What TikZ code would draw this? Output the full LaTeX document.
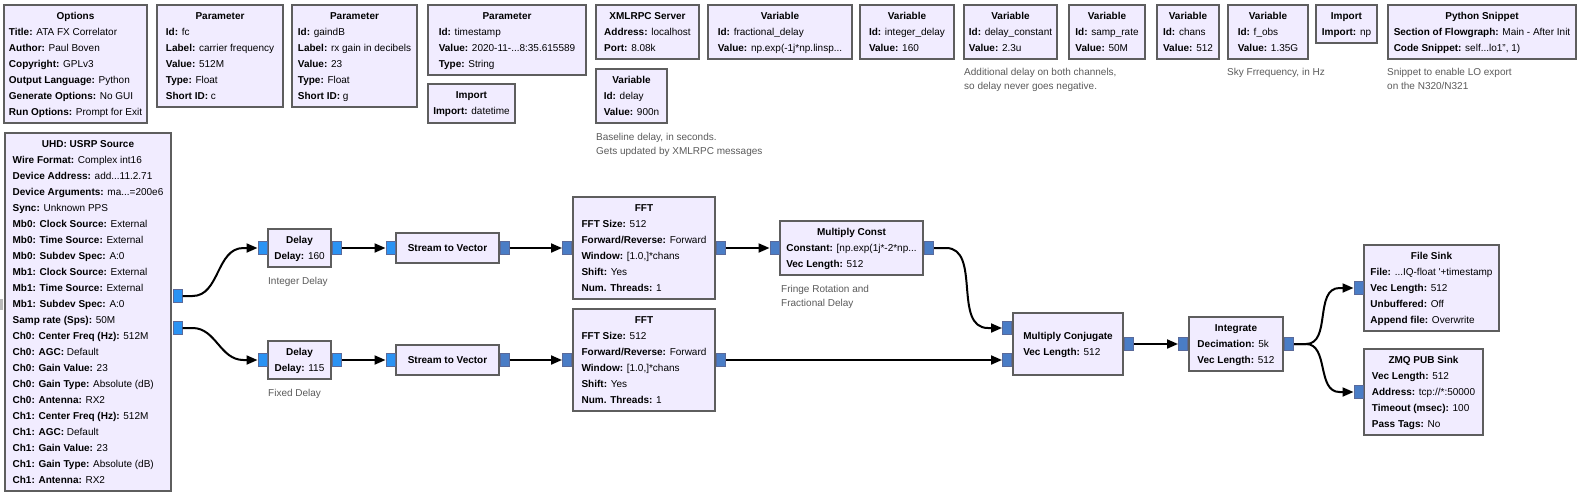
\documentclass[tikz,border=0pt]{standalone}
\usepackage{fontspec}
\setmainfont{Liberation Sans}
\usetikzlibrary{arrows.meta}
\definecolor{blkfill}{HTML}{F1ECFF}
\definecolor{blkline}{HTML}{5E5E5E}
\definecolor{cplx}{HTML}{2A93F3}
\definecolor{cvec}{HTML}{4A7DC6}
\definecolor{portline}{HTML}{5A6A9A}
\definecolor{cmtgray}{HTML}{5A5A5A}
\newcommand{\blk}[2]{\begin{tabular}{@{}l@{}}\multicolumn{1}{@{}c@{}}{\textbf{#1}}\\#2\end{tabular}}
\newcommand{\pline}[2]{\textbf{#1:} #2}

\begin{document}
\begin{tikzpicture}[x=1pt,y=-1pt,
	blk/.style={draw=blkline,line width=2pt,fill=blkfill,inner sep=0pt,font=\fontsize{10}{16}\selectfont},
	cport/.style={draw=portline,line width=1pt,fill=cplx,minimum width=9pt,minimum height=13pt,inner sep=0pt},
	vport/.style={cport,fill=cvec},
	wire/.style={line width=2pt,-{Triangle[length=11pt,width=9pt]}},
	cmt/.style={anchor=north west,inner sep=0pt,text=cmtgray,align=left,font=\fontsize{10}{14}\selectfont}]
	\useasboundingbox (0,0) rectangle (1585,498);
	\fill[gray!55] (0,299) rectangle (3,310);

	\node[blk,minimum width=143pt,minimum height=118pt] (opts) at (75.5,64) {\blk{Options}{\pline{Title}{ATA FX Correlator}\\\pline{Author}{Paul Boven}\\\pline{Copyright}{GPLv3}\\\pline{Output Language}{Python}\\\pline{Generate Options}{No GUI}\\\pline{Run Options}{Prompt for Exit}}};
	\node[blk,minimum width=126pt,minimum height=102pt] (parfc) at (220,56) {\blk{Parameter}{\pline{Id}{fc}\\\pline{Label}{carrier frequency}\\\pline{Value}{512M}\\\pline{Type}{Float}\\\pline{Short ID}{c}}};
	\node[blk,minimum width=125pt,minimum height=102pt] (pargain) at (354.5,56) {\blk{Parameter}{\pline{Id}{gaindB}\\\pline{Label}{rx gain in decibels}\\\pline{Value}{23}\\\pline{Type}{Float}\\\pline{Short ID}{g}}};
	\node[blk,minimum width=158pt,minimum height=70pt] (parts) at (507,40) {\blk{Parameter}{\pline{Id}{timestamp}\\\pline{Value}{2020-11-...8:35.615589}\\\pline{Type}{String}}};
	\node[blk,minimum width=87pt,minimum height=39pt] (impdt) at (471.5,103.5) {\blk{Import}{\pline{Import}{datetime}}};
	\node[blk,minimum width=103pt,minimum height=54pt] (xmlrpc) at (647.5,32) {\blk{XMLRPC Server}{\pline{Address}{localhost}\\\pline{Port}{8.08k}}};
	\node[blk,minimum width=71pt,minimum height=54pt] (vardelay) at (631.5,96) {\blk{Variable}{\pline{Id}{delay}\\\pline{Value}{900n}}};
	\node[blk,minimum width=144pt,minimum height=54pt] (varfrac) at (780,32) {\blk{Variable}{\pline{Id}{fractional\_delay}\\\pline{Value}{np.exp(-1j*np.linsp...}}};
	\node[blk,minimum width=94pt,minimum height=54pt] (varint) at (907,32) {\blk{Variable}{\pline{Id}{integer\_delay}\\\pline{Value}{160}}};
	\node[blk,minimum width=93pt,minimum height=54pt] (varconst) at (1010.5,32) {\blk{Variable}{\pline{Id}{delay\_constant}\\\pline{Value}{2.3u}}};
	\node[blk,minimum width=76pt,minimum height=54pt] (varsr) at (1107,32) {\blk{Variable}{\pline{Id}{samp\_rate}\\\pline{Value}{50M}}};
	\node[blk,minimum width=62pt,minimum height=54pt] (varchans) at (1188,32) {\blk{Variable}{\pline{Id}{chans}\\\pline{Value}{512}}};
	\node[blk,minimum width=80pt,minimum height=54pt] (varfobs) at (1268,32) {\blk{Variable}{\pline{Id}{f\_obs}\\\pline{Value}{1.35G}}};
	\node[blk,minimum width=61pt,minimum height=38pt] (impnp) at (1346.5,24) {\blk{Import}{\pline{Import}{np}}};
	\node[blk,minimum width=188pt,minimum height=54pt] (snippet) at (1482,32) {\blk{Python Snippet}{\pline{Section of Flowgraph}{Main - After Init}\\\pline{Code Snippet}{self...lo1", 1)}}};

	\node[cmt] (cmtdelay) at (596,133) {Baseline delay, in seconds.\\Gets updated by XMLRPC messages};
	\node[cmt] (cmtconst) at (964,68) {Additional delay on both channels,\\so delay never goes negative.};
	\node[cmt] (cmtfobs) at (1227,68) {Sky Frrequency, in Hz};
	\node[cmt] (cmtsnip) at (1387,68) {Snippet to enable LO export\\on the N320/N321};

	\node[blk,minimum width=166pt,minimum height=358pt] (usrp) at (88,312) {\blk{UHD: USRP Source}{\pline{Wire Format}{Complex int16}\\\pline{Device Address}{add...11.2.71}\\\pline{Device Arguments}{ma...=200e6}\\\pline{Sync}{Unknown PPS}\\\pline{Mb0: Clock Source}{External}\\\pline{Mb0: Time Source}{External}\\\pline{Mb0: Subdev Spec}{A:0}\\\pline{Mb1: Clock Source}{External}\\\pline{Mb1: Time Source}{External}\\\pline{Mb1: Subdev Spec}{A:0}\\\pline{Samp rate (Sps)}{50M}\\\pline{Ch0: Center Freq (Hz)}{512M}\\\pline{Ch0: AGC}{Default}\\\pline{Ch0: Gain Value}{23}\\\pline{Ch0: Gain Type}{Absolute (dB)}\\\pline{Ch0: Antenna}{RX2}\\\pline{Ch1: Center Freq (Hz)}{512M}\\\pline{Ch1: AGC}{Default}\\\pline{Ch1: Gain Value}{23}\\\pline{Ch1: Gain Type}{Absolute (dB)}\\\pline{Ch1: Antenna}{RX2}}};
	\node[blk,minimum width=63pt,minimum height=38pt] (delay1) at (299.5,248) {\blk{Delay}{\pline{Delay}{160}}};
	\node[blk,minimum width=63pt,minimum height=38pt] (delay2) at (299.5,360) {\blk{Delay}{\pline{Delay}{115}}};
	\node[blk,minimum width=103pt,minimum height=30pt] (s2v1) at (447.5,248) {\textbf{Stream to Vector}};
	\node[blk,minimum width=103pt,minimum height=30pt] (s2v2) at (447.5,360) {\textbf{Stream to Vector}};
	\node[blk,minimum width=142pt,minimum height=102pt] (fft1) at (644,248) {\blk{FFT}{\pline{FFT Size}{512}\\\pline{Forward/Reverse}{Forward}\\\pline{Window}{[1.0,]*chans}\\\pline{Shift}{Yes}\\\pline{Num. Threads}{1}}};
	\node[blk,minimum width=142pt,minimum height=102pt] (fft2) at (644,360) {\blk{FFT}{\pline{FFT Size}{512}\\\pline{Forward/Reverse}{Forward}\\\pline{Window}{[1.0,]*chans}\\\pline{Shift}{Yes}\\\pline{Num. Threads}{1}}};
	\node[blk,minimum width=143pt,minimum height=54pt] (mconst) at (851.5,248) {\blk{Multiply Const}{\pline{Constant}{[np.exp(1j*-2*np...}\\\pline{Vec Length}{512}}};
	\node[blk,minimum width=110pt,minimum height=62pt] (mconj) at (1068,344) {\blk{Multiply Conjugate}{\pline{Vec Length}{512}}};
	\node[blk,minimum width=94pt,minimum height=54pt] (integ) at (1236,344) {\blk{Integrate}{\pline{Decimation}{5k}\\\pline{Vec Length}{512}}};
	\node[blk,minimum width=135pt,minimum height=86pt] (fsink) at (1431.5,288) {\blk{File Sink}{\pline{File}{...IQ-float \textquotesingle+timestamp}\\\pline{Vec Length}{512}\\\pline{Unbuffered}{Off}\\\pline{Append file}{Overwrite}}};
	\node[blk,minimum width=119pt,minimum height=86pt] (zmq) at (1423.5,392) {\blk{ZMQ PUB Sink}{\pline{Vec Length}{512}\\\pline{Address}{tcp://*:50000}\\\pline{Timeout (msec)}{100}\\\pline{Pass Tags}{No}}};

	\node[cmt] (cmtd1) at (268,277) {Integer Delay};
	\node[cmt] (cmtd2) at (268,389) {Fixed Delay};
	\node[cmt] (cmtmc) at (781,285) {Fringe Rotation and\\Fractional Delay};

	\node[cport] (usrpo0) at (177.5,296) {};
	\node[cport] (usrpo1) at (177.5,328) {};
	\node[cport] (d1i) at (262.5,248) {};
	\node[cport] (d1o) at (337,248) {};
	\node[cport] (d2i) at (262.5,360) {};
	\node[cport] (d2o) at (337,360) {};
	\node[cport] (s1i) at (390.5,248) {};
	\node[vport] (s1o) at (504.5,248) {};
	\node[cport] (s2i) at (390.5,360) {};
	\node[vport] (s2o) at (504.5,360) {};
	\node[vport] (f1i) at (567,248) {};
	\node[vport] (f1o) at (721,248) {};
	\node[vport] (f2i) at (567,360) {};
	\node[vport] (f2o) at (721,360) {};
	\node[vport] (mci) at (774.5,248) {};
	\node[vport] (mco) at (929,248) {};
	\node[vport] (mji0) at (1007,328) {};
	\node[vport] (mji1) at (1007,360) {};
	\node[vport] (mjo) at (1129,344) {};
	\node[vport] (ii) at (1183,344) {};
	\node[vport] (io) at (1289,344) {};
	\node[vport] (fsi) at (1358.5,288) {};
	\node[vport] (zi) at (1358.5,392) {};

	\draw[wire] (usrpo0.east) -- ++(10,0) to[out=0,in=180] ([xshift=-14pt]d1i.west) -- (d1i.west);
	\draw[wire] (usrpo1.east) -- ++(10,0) to[out=0,in=180] ([xshift=-14pt]d2i.west) -- (d2i.west);
	\draw[wire] (d1o) -- (s1i);
	\draw[wire] (d2o) -- (s2i);
	\draw[wire] (s1o) -- (f1i);
	\draw[wire] (s2o) -- (f2i);
	\draw[wire] (f1o) -- (mci);
	\draw[wire] (mco.east) -- ++(12,0) to[out=0,in=180] ([xshift=-14pt]mji0.west) -- (mji0.west);
	\draw[wire] (f2o) -- (mji1);
	\draw[wire] (mjo) -- (ii);
	\draw[wire] (io.east) -- ++(12,0) to[out=0,in=180] ([xshift=-14pt]fsi.west) -- (fsi.west);
	\draw[wire] (io.east) -- ++(12,0) to[out=0,in=180] ([xshift=-14pt]zi.west) -- (zi.west);
\end{tikzpicture}
\end{document}
